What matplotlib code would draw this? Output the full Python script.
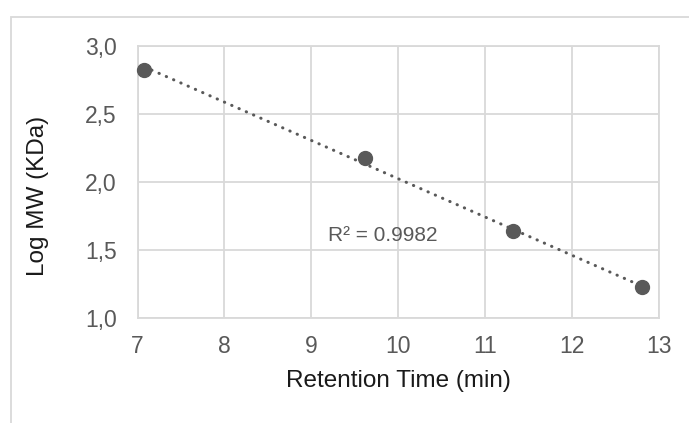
import numpy as np
import matplotlib
matplotlib.use("Agg")
import matplotlib.pyplot as plt
from matplotlib.patches import Rectangle

# Calibration standards: retention time vs. log molecular weight
retention_time = [7.08, 9.62, 11.32, 12.80]
log_mw = [2.825, 2.175, 1.64, 1.225]
r2_label = "R² = 0.9982"

x_ticks = [7, 8, 9, 10, 11, 12, 13]
y_ticks = [1.0, 1.5, 2.0, 2.5, 3.0]
y_tick_labels = ["1,0", "1,5", "2,0", "2,5", "3,0"]

plt.rcParams["font.family"] = ["Liberation Sans", "DejaVu Sans"]

grey = "#595959"
grid = "#d9d9d9"

fig = plt.figure(figsize=(6.89, 4.23), dpi=100)
ax = fig.add_axes([137.5 / 689, 1 - 318 / 423, (659 - 137.5) / 689, (318 - 46) / 423])

# outer chart frame (runs off the right and bottom edges)
fig.patches.append(Rectangle((11 / 689, -0.1), 1.2, 1 - 17 / 423 + 0.1,
                             transform=fig.transFigure, fill=False,
                             edgecolor=grid, linewidth=1.3, zorder=0))

ax.set_xlim(7, 13)
ax.set_ylim(1.0, 3.0)
ax.set_xticks(x_ticks)
ax.set_yticks(y_ticks)
ax.set_yticklabels(y_tick_labels)
ax.grid(True, color=grid, linewidth=1.3)
ax.set_axisbelow(True)
for s in ax.spines.values():
    s.set_color(grid)
    s.set_linewidth(1.3)
ax.tick_params(length=0, labelsize=16.5, colors=grey)
ax.tick_params(axis="x", pad=12)
ax.tick_params(axis="y", pad=15)

# linear trend line
slope, intercept = np.polyfit(retention_time, log_mw, 1)
xs = np.array([min(retention_time), max(retention_time)])
ax.plot(xs, slope * xs + intercept, color=grey, linewidth=2.2,
        linestyle=(0, (0.1, 2.5)), dash_capstyle="round", zorder=2)

ax.plot(retention_time, log_mw, "o", color=grey, markersize=10, zorder=3,
        clip_on=False)

ax.text(9.19, 1.61, r2_label, fontsize=15, color=grey, va="center", ha="left")

ax.set_xlabel("Retention Time (min)", fontsize=17.5, color="#1a1a1a", labelpad=9)
ax.set_ylabel("Log MW (KDa)", fontsize=17.5, color="#1a1a1a", labelpad=20)
ax.yaxis.set_label_coords(-0.17, 0.45)

fig.savefig("out.png", dpi=100)
